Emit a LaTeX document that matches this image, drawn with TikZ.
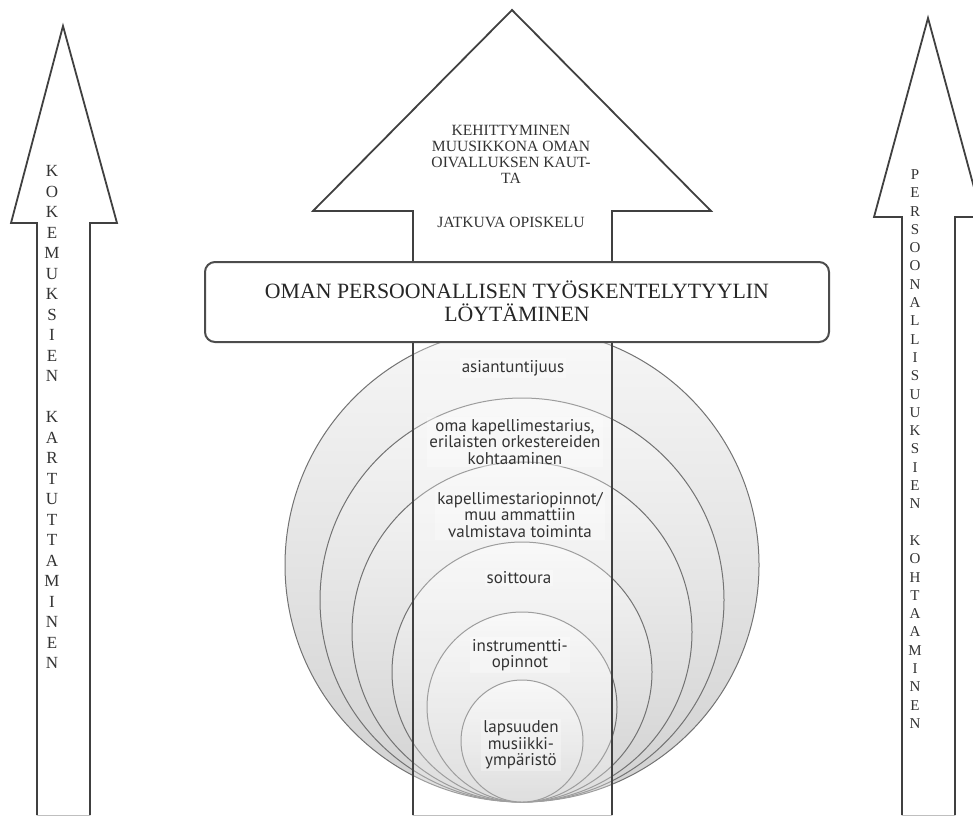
\documentclass[tikz,border=0pt]{standalone}
\usepackage{fontspec}
\setmainfont{Liberation Serif}
\setsansfont{PT Sans}

\begin{document}
\begin{tikzpicture}[x=0.5pt,y=-0.5pt,
    arrowline/.style={draw=black!75,line width=0.9pt,line join=miter},
    ring/.style={draw=black!55,line width=0.5pt,top color=gray!7,bottom color=gray!36},
    ringlabel/.style={font=\sffamily\fontsize{8.5}{8.3}\selectfont,text=black!80,align=center,
      fill=white,fill opacity=0.3,text opacity=1,inner sep=1pt},
    sideletters/.style={font=\fontsize{8.5}{10.25}\selectfont,text=black!80,align=center,inner sep=0pt}]
          \useasboundingbox (0,0) rectangle (973,816);
          \clip (0,0) rectangle (973,816);
          % side arrows
          \draw[arrowline,fill=white] (37,815) -- (37,223) -- (11,223) -- (63,26) -- (117,223) -- (90,223) -- (90,815);
          \draw[arrowline,fill=white] (902,815) -- (902,217) -- (874,217) -- (928,18) -- (982,217) -- (955,217) -- (955,815);
          \draw[black!25] (37,815) -- (90,815) (902,815) -- (955,815);
          % nested circles, all touching at the bottom
          \draw[ring] (522,565) circle (237);
          \draw[ring] (522,600) circle (202);
          \draw[ring] (522,632) circle (170);
          \draw[ring] (522,672) circle (130);
          \draw[ring] (522,707) circle (95);
          \draw[ring] (522,741) circle (61);
          % middle arrow
          \filldraw[arrowline,fill=white,fill opacity=0.3] (413,815) -- (413,211) -- (313,211) -- (512,10) -- (711,211) -- (612,211) -- (612,815);
          \draw[black!25] (413,815) -- (612,815);
          \filldraw[fill=white,draw=black!70,line width=1pt,rounded corners=5pt] (205,262) rectangle (829,342);
          \node[font=\fontsize{10.9}{11.5}\selectfont,text=black!85,align=center] (heading) at (517,301)
            {OMAN PERSOONALLISEN TYÖSKENTELYTYYLIN\\LÖYTÄMINEN};
          \node[font=\fontsize{7.8}{8}\selectfont,text=black!80,align=center] (growth) at (511,154)
            {KEHITTYMINEN\\MUUSIKKONA OMAN\\OIVALLUKSEN KAUT-\\TA};
          \node[font=\fontsize{7.8}{8}\selectfont,text=black!80] (study) at (511,222) {JATKUVA OPISKELU};
          \node[sideletters] (experience) at (52,417)
            {K\\O\\K\\E\\M\\U\\K\\S\\I\\E\\N\\[10.25pt]K\\A\\R\\T\\U\\T\\T\\A\\M\\I\\N\\E\\N};
          \node[sideletters,font=\fontsize{7.5}{9.15}\selectfont] (personality) at (915,449)
            {P\\E\\R\\S\\O\\O\\N\\A\\L\\L\\I\\S\\U\\U\\K\\S\\I\\E\\N\\[9.15pt]K\\O\\H\\T\\A\\A\\M\\I\\N\\E\\N};
          \node[ringlabel] (expert) at (513,368) {asiantuntijuus};
          \node[ringlabel] (conducting) at (515,442) {oma kapellimestarius,\\erilaisten orkestereiden\\kohtaaminen};
          \node[ringlabel] (studies) at (520,515) {kapellimestariopinnot/\\muu ammattiin\\valmistava toiminta};
          \node[ringlabel] (career) at (519,578) {soittoura};
          \node[ringlabel] (instrument) at (520,655) {instrumentti-\\opinnot};
          \node[ringlabel] (childhood) at (521,745) {lapsuuden\\musiikki-\\ympäristö};
        \end{tikzpicture}
\end{document}
